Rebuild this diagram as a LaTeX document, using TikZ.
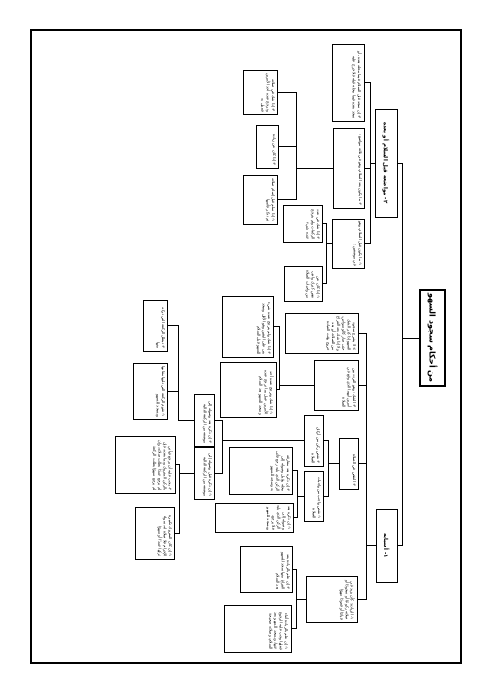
\documentclass[tikz,border=0pt]{standalone}
\usepackage{fontspec}
\newfontfamily\arabicfont[Script=Arabic]{DejaVu Sans}
\TeXXeTstate=1
\tikzset{
  card/.style={draw, line width=0.8pt, rotate=-90, inner sep=2pt,
    font=\arabicfont\fontsize{3.9}{5.2}\selectfont},
  headcard/.style={card, line width=1pt,
    font=\arabicfont\bfseries\fontsize{5.5}{7}\selectfont},
  link/.style={line width=0.8pt},
  frame/.style={line width=1.4pt}
}
% box from page corners (x1,y1) to (x2,y2), text set from its top
\newcommand{\card}[6]{%
  \pgfmathsetmacro\cardh{#4-#2-4}%
  \pgfmathsetmacro\cardw{#5-#3-4}%
  \node[card] (#1) at ({(#2+#4)/2},{(#3+#5)/2})
    {\parbox[c][\cardh pt][t]{\cardw pt}{\raggedleft\noindent #6}};}

\begin{document}
\begin{tikzpicture}[x=1pt, y=-1pt]

  \useasboundingbox (0,0) rectangle (491,694);

  % Page frame.
  \draw[frame] (31,30) rectangle (461,663);

  % Root and first level.
  \node[headcard, line width=1.3pt, font=\arabicfont\bfseries\fontsize{8}{9}\selectfont,
    minimum width=96pt, minimum height=25pt] (R) at (432.5,338)
    {\beginR من أحكام سجود السهو\endR};
  \node[headcard, minimum width=108pt, minimum height=22pt] (A) at (386,163)
    {\beginR ٢{}- مواضعه قبل السلام أو بعده\endR};
  \node[headcard, minimum width=73pt, minimum height=21pt] (B) at (386.5,545.5)
    {\beginR ١{}- أسبابه\endR};

  % Where it falls.
  \card{A1}{332}{44}{364}{121}{\beginR ٣{}- إن سجد قبل السلام فيما محله بعده، أو سجد بعده فيما محله قبله فلا حرج عليه\endR}
  \card{A2}{333}{128}{364}{208}{\beginR ٢{}- ما يكون بعد السلام، وهو في ثلاثة مواضع:\endR}
  \card{A3}{332}{219}{364}{268}{\beginR ١{}- ما يكون قبل السلام، وهو في موضعين:\endR}
  \card{A2a}{243}{70}{277}{114}{\beginR ٣{}- إذا شك في صلاته وترجح عنده أحد الأمرين فعمل به\endR}
  \card{A2b}{256}{125}{278}{168}{\beginR ٢{}- إذا كان عن زيادة\endR}
  \card{A2c}{243}{175}{277}{224}{\beginR ١{}- إذا سلم قبل إتمام صلاته ثم تذكر فأتمها\endR}
  \card{A3a}{283}{205}{322}{242}{\beginR ٢{}- إذا شك في عدد الركعات ولم يترجح عنده شيء\endR}
  \card{A3b}{284}{266}{322}{301}{\beginR ١{}- إذا كان عن نقص كترك واجب من واجبات الصلاة\endR}

  % Its causes.
  \card{B1}{285}{313}{358}{353}{\beginR ٤{}- لا يشرع سجود السهو إذا كثر الشك حتى صار كالوسواس، ولا إذا شك بعد الفراغ من الصلاة، أو بعد خروج وقت العبادة\endR}
  \card{B2}{314}{360}{358}{410}{\beginR ٣{}- الشك: وهو التردد بين أمرين أيهما الذي وقع في الصلاة\endR}
  \card{B3}{339}{438}{358}{489}{\beginR ٢{}- النقص في الصلاة\endR}
  \card{B4}{306}{576}{357}{622}{\beginR ١{}- الزيادة: كأن يزيد في صلاته ركوعًا أو سجودًا أو قيامًا أو قعودًا سهوًا\endR}
  \card{B2a}{222}{296}{273}{357}{\beginR ٢{}- إذا شك ولم يترجح عنده شيء بنى على اليقين وهو الأقل وسجد للسهو قبل السلام\endR}
  \card{B2b}{220}{362}{276}{417}{\beginR ١{}- إذا شك وترجح عنده أحد الأمرين عمل بما ترجح عنده وسجد للسهو بعد السلام\endR}
  \card{B3a}{304}{415}{323}{466}{\beginR ٢{}- نقص ركن من أركان الصلاة\endR}
  \card{B3b}{304}{471}{323}{521}{\beginR ١{}- نقص واجب من واجبات الصلاة\endR}
  \card{C1}{194}{394}{214}{446}{\beginR ٢{}- إن ذكره بعد وصوله إلى موضعه من الركعة التالية\endR}
  \card{C2}{194}{447}{214}{499}{\beginR ١{}- إن ذكره قبل وصوله إلى موضعه من الركعة التالية\endR}
  \card{D1}{143}{300}{167}{351}{\beginR ٢{}- تبطل الركعة التي تركه منها\endR}
  \card{D2}{133}{363}{167}{419}{\beginR ١{}- تقوم الركعة التي تليها مقامها ويسجد للسهو\endR}
  \card{D3}{115}{436}{175}{493}{\beginR ٢{}- يجب عليه أن يرجع فيأتي بالركن المتروك وبما بعده، فإن لم يرجع عمدًا بطلت صلاته، وإن لم يرجع سهوًا بطلت الركعة\endR}
  \card{D4}{135}{507}{174}{559}{\beginR ١{}- إن كان المتروك تكبيرة الإحرام فلا صلاة له، سواء تركها عمدًا أو سهوًا\endR}
  \card{E1}{229}{447}{292}{494}{\beginR ٢{}- إن ذكره بعد مفارقة محله وقبل وصوله إلى الركن الذي يليه رجع فأتى به وسجد للسهو\endR}
  \card{E2}{215}{503}{293}{532}{\beginR ١{}- إن ذكره بعد وصوله إلى الركن الذي يليه فلا يرجع، ويسجد للسهو\endR}
  \card{F1}{240}{546}{292}{592}{\beginR ٢{}- إن علم بالزيادة بعد الفراغ منها سجد للسهو بعد السلام\endR}
  \card{F2}{224}{605}{291}{652}{\beginR ١{}- إن علم بالزيادة أثناء فعلها وجب عليه الرجوع عنها، ويسجد للسهو بعد السلام، وصلاته صحيحة\endR}

  % Elbow connectors: parent -> bus -> child.
  \coordinate (Rbus) at (R.south -| 402,0);
  \foreach \c in {A,B} \draw[link] (R.south) -- (Rbus) |- (\c.north);
  \coordinate (Abus) at (A.south -| 370,0);
  \foreach \c in {A1,A2,A3} \draw[link] (A.south) -- (Abus) |- (\c.north);
  \coordinate (A2bus) at (A2.south -| 296,0);
  \foreach \c in {A2a,A2b,A2c} \draw[link] (A2.south) -- (A2bus) |- (\c.north);
  \coordinate (A3bus) at (A3.south -| 326,0);
  \foreach \c in {A3a,A3b} \draw[link] (A3.south) -- (A3bus) |- (\c.north);
  \coordinate (Bbus) at (B.south -| 366,0);
  \foreach \c in {B1,B2,B3,B4} \draw[link] (B.south) -- (Bbus) |- (\c.north);
  \coordinate (B2bus) at (B2.south -| 279,0);
  \foreach \c in {B2a,B2b} \draw[link] (B2.south) -- (B2bus) |- (\c.north);
  \coordinate (B3bus) at (B3.south -| 328,0);
  \foreach \c in {B3a,B3b} \draw[link] (B3.south) -- (B3bus) |- (\c.north);
  \coordinate (B3abus) at (B3a.south -| 222,0);
  \foreach \c in {C1,C2} \draw[link] (B3a.south) -- (B3abus) |- (\c.north);
  \coordinate (B3bbus) at (B3b.south -| 297,0);
  \foreach \c in {E1,E2} \draw[link] (B3b.south) -- (B3bbus) |- (\c.north);
  \coordinate (C1bus) at (C1.south -| 178,0);
  \foreach \c in {D1,D2} \draw[link] (C1.south) -- (C1bus) |- (\c.north);
  \coordinate (C2bus) at (C2.south -| 179,0);
  \foreach \c in {D3,D4} \draw[link] (C2.south) -- (C2bus) |- (\c.north);
  \coordinate (B4bus) at (B4.south -| 296,0);
  \foreach \c in {F1,F2} \draw[link] (B4.south) -- (B4bus) |- (\c.north);

\end{tikzpicture}
\end{document}
